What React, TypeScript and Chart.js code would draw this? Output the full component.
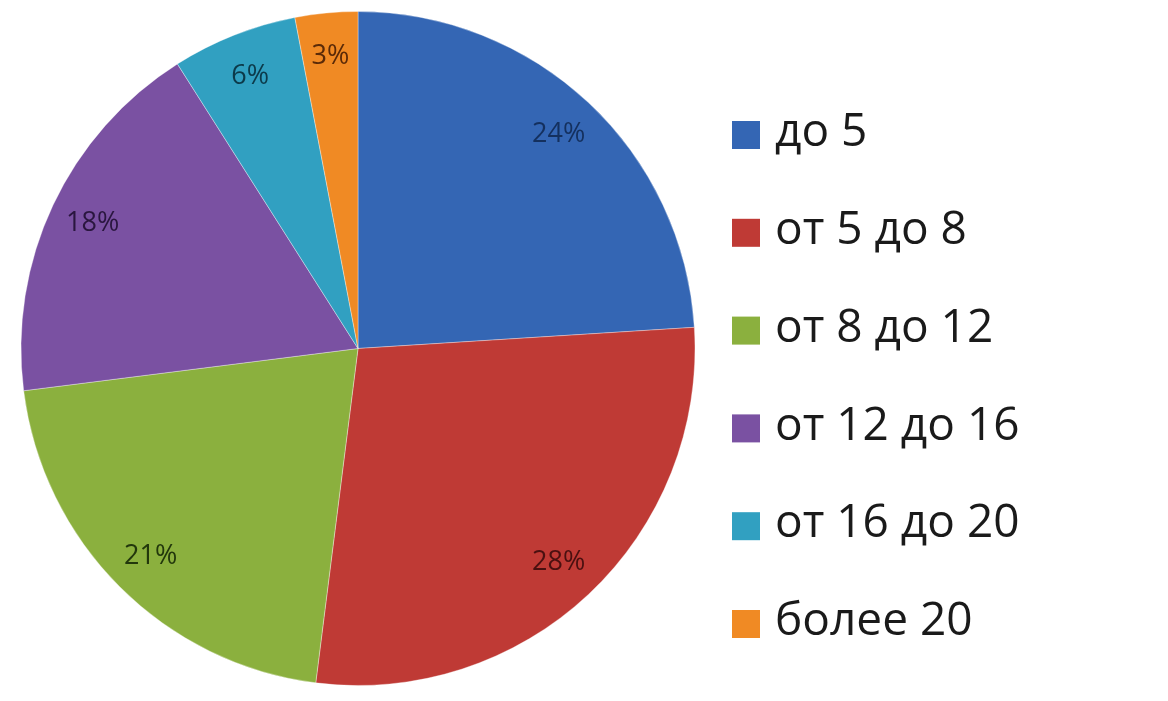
import React, { useEffect, useRef } from "react";
import { Chart, registerables } from "chart.js";

Chart.register(...registerables);

const categories = ["до 5", "от 5 до 8", "от 8 до 12", "от 12 до 16", "от 16 до 20", "более 20"];
const shares = [24, 28, 21, 18, 6, 3];
const sliceColors = ["#3466B4", "#BF3A35", "#8BB03E", "#7A51A2", "#31A0C1", "#F08A24"];
const labelColors = ["#14305e", "#4a1010", "#22370c", "#2a163f", "#0c3a4a", "#5a2a08"];

const pctLabels = {
  id: "pctLabels",
  afterDatasetsDraw(chart: any) {
    const ctx = chart.ctx;
    const meta = chart.getDatasetMeta(0);
    ctx.save();
    ctx.font = "27px 'Open Sans'";
    ctx.textAlign = "center";
    ctx.textBaseline = "middle";
    meta.data.forEach((arc: any, i: number) => {
      const p = arc.getProps(["x", "y", "startAngle", "endAngle", "outerRadius"], true);
      const mid = (p.startAngle + p.endAngle) / 2;
      const r = p.outerRadius * 0.87;
      ctx.fillStyle = labelColors[i];
      ctx.fillText(shares[i] + "%", p.x + Math.cos(mid) * r, p.y + Math.sin(mid) * r);
    });
    ctx.restore();
  },
};

const sideLegend = {
  id: "sideLegend",
  afterDraw(chart: any) {
    const ctx = chart.ctx;
    ctx.save();
    ctx.font = "46px 'Open Sans'";
    ctx.textAlign = "left";
    ctx.textBaseline = "middle";
    const x0 = 732;
    const y0 = 135;
    const step = 97.8;
    const sq = 28;
    categories.forEach((c, i) => {
      const cy = y0 + i * step;
      ctx.fillStyle = sliceColors[i];
      ctx.fillRect(x0, cy - sq / 2, sq, sq);
      ctx.fillStyle = "#1a1a1a";
      ctx.fillText(c, x0 + 43, cy - 2);
    });
    ctx.restore();
  },
};

export default function App() {
  const ref = useRef<HTMLCanvasElement>(null);
  useEffect(() => {
    if (!ref.current) return;
    const chart = new Chart(ref.current, {
      type: "pie",
      data: {
        labels: categories,
        datasets: [
          {
            data: shares,
            backgroundColor: sliceColors,
            borderColor: "rgba(255,255,255,0.35)",
            borderWidth: 1,
          },
        ],
      },
      options: {
        responsive: false,
        animation: false,
        layout: { padding: { left: 20, top: 11, right: 472, bottom: 15 } },
        plugins: { legend: { display: false }, tooltip: { enabled: false } },
      },
      plugins: [pctLabels, sideLegend],
    });
    return () => chart.destroy();
  }, []);
  return (
    <div style={{ position: "fixed", left: 0, top: 0, width: 1168, height: 701, background: "#fff" }}>
      <canvas ref={ref} width={1168} height={701} style={{ width: 1168, height: 701 }} />
    </div>
  );
}
